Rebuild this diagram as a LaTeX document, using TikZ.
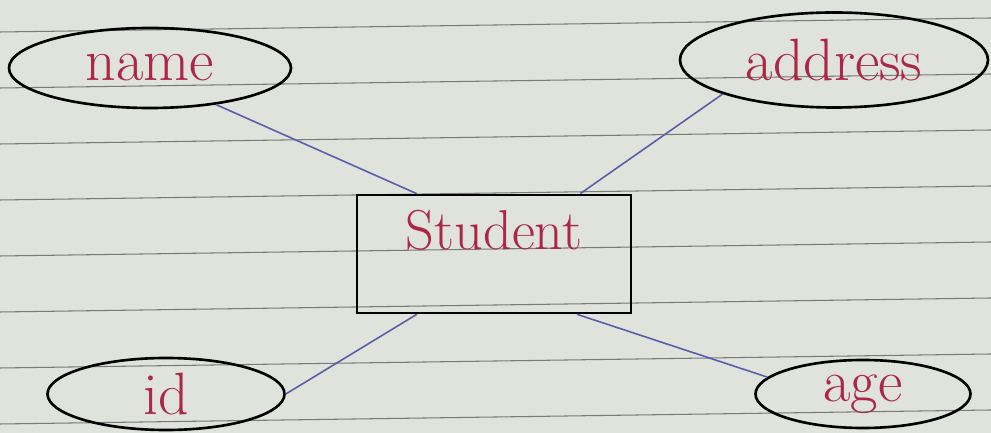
\documentclass[tikz,border=0pt]{standalone}
\usepackage{xcolor}
\usepackage{tikz}
\usetikzlibrary{shapes.geometric}
\definecolor{paper}{RGB}{223,227,219}
\definecolor{rule}{RGB}{120,124,118}
\definecolor{inkred}{RGB}{172,38,70}
\definecolor{inkblue}{RGB}{92,92,172}

\begin{document}
\begin{tikzpicture}[
    attr/.style={ellipse, draw=black, line width=1.5pt, inner sep=0pt, text=inkred, font=\fontsize{34}{36}\selectfont},
    entity/.style={rectangle, draw=black, line width=1.5pt, inner sep=0pt, text=inkred, font=\fontsize{32}{36}\selectfont},
    link/.style={draw=inkblue, line width=0.9pt},
]

% Paper
\useasboundingbox (0,0) rectangle (19.82,8.66);
\fill[paper] (0,0) rectangle (19.82,8.66);
\foreach \i in {0,...,7}
    \draw[rule, line width=0.6pt] (0,{8.02-1.12*\i}) -- (19.82,{8.30-1.12*\i});

% Entity
\node[entity, minimum width=5.48cm, text height=1.1cm, text depth=1.26cm] (student) at (9.88,3.58) {Student};

% Attributes
\node[attr, minimum width=5.64cm, minimum height=1.6cm] (name) at (3.0,7.3) {name};
\node[attr, minimum width=6.16cm, minimum height=1.9cm] (address) at (16.68,7.46) {address};
\node[attr, minimum width=4.74cm, minimum height=1.44cm] (id) at (3.32,0.78) {id};
\node[attr, minimum width=4.3cm, minimum height=1.36cm] (age) at (17.26,0.78) {age};

% Links
\draw[link] (name.-29) -- (student.142);
\draw[link] (address.-163) -- (student.35);
\draw[link] (id.0) -- (student.218);
\draw[link] (age.170) -- (student.324);

\end{tikzpicture}
\end{document}
